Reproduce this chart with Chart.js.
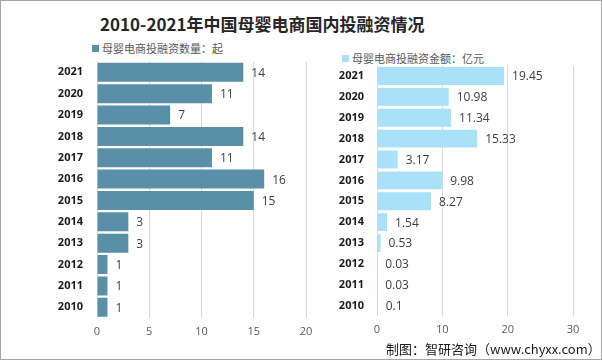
<!DOCTYPE html>
<html>
<head>
<meta charset="utf-8">
<script src="https://cdn.jsdelivr.net/npm/chart.js@4"></script>
<style>
  body { margin: 0; background: #fff; }
  #page { position: relative; width: 602px; height: 360px; box-sizing: border-box; border: 1px solid #a6a6a6; overflow: hidden; font-family: "Noto Sans CJK SC", sans-serif; }
  #title { position: absolute; left: 99px; top: 10px; font-size: 17px; font-weight: bold; color: #262626; white-space: nowrap; }
  .legend { position: absolute; font-size: 11px; color: #595959; white-space: nowrap; }
  .legend i { display: inline-block; width: 7px; height: 7px; margin-right: 3px; vertical-align: 1px; }
  #footer { position: absolute; left: 385px; top: 338px; font-size: 13px; color: #1a1a1a; white-space: nowrap; }
  .box { position: absolute; }
</style>
</head>
<body>
<div id="page">
  <div id="title">2010-2021年中国母婴电商国内投融资情况</div>
  <div class="legend" id="legL" style="left:91px; top:39px;"><i style="background:#5a8fa8"></i><span></span></div>
  <div class="legend" id="legR" style="left:341px; top:49px;"><i style="background:#a9e1f8"></i><span></span></div>
  <div class="box" style="left:0; top:40px; width:319px; height:310px;"><canvas id="countChart"></canvas></div>
  <div class="box" style="left:319px; top:45px; width:281px; height:305px;"><canvas id="amountChart"></canvas></div>
  <div id="footer">制图：智研咨询（www.chyxx.com）</div>
</div>
<script>
// data
const years = ["2010", "2011", "2012", "2013", "2014", "2015", "2016", "2017", "2018", "2019", "2020", "2021"];
const dealCount = [1, 1, 1, 3, 3, 15, 16, 11, 14, 7, 11, 14];
const dealAmount = [0.1, 0.03, 0.03, 0.53, 1.54, 8.27, 9.98, 3.17, 15.33, 11.34, 10.98, 19.45];
const countLabel = "母婴电商投融资数量：起";
const amountLabel = "母婴电商投融资金额：亿元";
const countTicks = [0, 5, 10, 15, 20];
const amountTicks = [0, 10, 20, 30];

document.querySelector("#legL span").textContent = countLabel;
document.querySelector("#legR span").textContent = amountLabel;

// value labels next to bar ends
const valueLabels = {
    id: "valueLabels",
    afterDatasetsDraw(chart) {
        const ctx = chart.ctx;
        const values = chart.data.datasets[0].data;
        ctx.save();
        ctx.font = "12px 'Open Sans', sans-serif";
        ctx.fillStyle = "#404040";
        ctx.textAlign = "left";
        ctx.textBaseline = "middle";
        chart.getDatasetMeta(0).data.forEach((bar, i) => {
            ctx.fillText(String(values[i]), bar.x + 8, bar.y + 1);
        });
        ctx.restore();
    }
};

function makeChart(id, label, values, color, ticks, opts) {
    return new Chart(document.getElementById(id), {
        type: "bar",
        data: {
            labels: years,
            datasets: [{
                label: label,
                data: values,
                backgroundColor: color,
                barPercentage: opts.barPct,
                categoryPercentage: 1
            }]
        },
        options: {
            indexAxis: "y",
            responsive: true,
            maintainAspectRatio: false,
            animation: false,
            layout: { padding: opts.padding },
            plugins: { legend: { display: false }, tooltip: { enabled: false } },
            scales: {
                y: {
                    reverse: true,
                    grid: { display: false, drawTicks: false },
                    border: { display: false },
                    ticks: { color: "#1a1a1a", padding: opts.yPad, font: { family: "'Open Sans', sans-serif", size: 11, weight: "bold" } },
                    afterFit: s => { s.width = opts.yWidth; }
                },
                x: {
                    min: 0,
                    max: ticks[ticks.length - 1],
                    afterBuildTicks: s => { s.ticks = ticks.map(v => ({ value: v })); },
                    grid: { color: "#d9d9d9", drawTicks: false },
                    border: { display: false },
                    ticks: { color: "#595959", padding: 7, font: { family: "'Open Sans', sans-serif", size: 11 } },
                    afterFit: s => { s.height = opts.xHeight; }
                }
            }
        },
        plugins: [valueLabels]
    });
}

makeChart("countChart", countLabel, dealCount, "#5a8fa8", countTicks,
    { padding: { top: 0, right: 14, left: 0, bottom: 0 }, yWidth: 96, yPad: 14, xHeight: 33, barPct: 0.89 });
makeChart("amountChart", amountLabel, dealAmount, "#a9e1f8", amountTicks,
    { padding: { top: 0, right: 28, left: 0, bottom: 0 }, yWidth: 57, yPad: 13, xHeight: 35, barPct: 0.86 });
</script>
</body>
</html>
